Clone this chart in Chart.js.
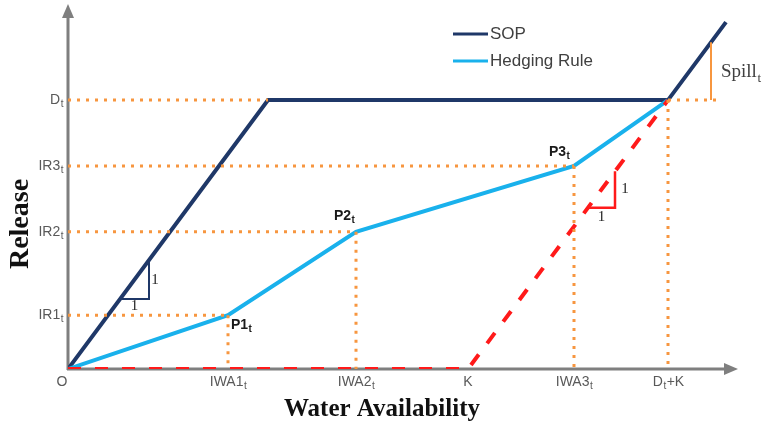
<!DOCTYPE html>
<html>
<head>
<meta charset="utf-8">
<script src="https://cdn.jsdelivr.net/npm/chart.js@4"></script>
<style>
  html, body { margin: 0; padding: 0; background: #fff; }
  #wrap { width: 763px; height: 429px; }
</style>
</head>
<body>
<div id="wrap"><canvas id="chart" width="763" height="429"></canvas></div>
<script>
// Values in units where Dt = 100
const xTicks = [0, 80, 144, 200, 253, 300];
const xTickLabels = ['O', 'IWA1_t', 'IWA2_t', 'K', 'IWA3_t', 'D_t+K'];
const yTicks = [20, 51, 75.5, 100];
const yTickLabels = ['IR1_t', 'IR2_t', 'IR3_t', 'D_t'];

const sopX = [0, 100, 300, 329];
const sopY = [0, 100, 100, 129];
const hedgeX = [0, 80, 144, 253, 300];
const hedgeY = [0, 20, 51, 75.5, 100];
const kLineX = [0, 200, 300];
const kLineY = [0, 0, 100];
const pointLabels = ['P1_t', 'P2_t', 'P3_t'];
const dGuideEnd = 327;
const spillX = 321.5;
const spillY = [100, 121.5];
const sopTriX = [26, 40.5, 40.5];
const sopTriY = [26, 26, 40.5];
const kTriX = [260, 273.5, 273.5];
const kTriY = [60, 60, 73.5];

const NAVY = '#1f3868';
const CYAN = '#19b1ec';
const RED = '#ff1a1a';
const ORANGE = '#f7963f';
const AXIS = '#7f7f7f';
const TXT = '#595959';

const pts = (xs, ys) => xs.map((x, i) => ({ x: x, y: ys[i] }));

function line(data, color, width, dash, cap) {
  return {
    data: data,
    showLine: true,
    borderColor: color,
    borderWidth: width,
    borderDash: dash || [],
    borderCapStyle: cap || 'butt',
    pointRadius: 0,
    fill: false,
    tension: 0
  };
}

// dotted guides from the axes to the breakpoints
const DOTS = [3, 6];
const guides = [];
for (let i = 1; i < hedgeX.length; i++) {
  const last = i === hedgeX.length - 1;
  if (last) {
    // Dt guide: hidden under the flat SOP part, so draw it in two pieces
    guides.push(line([{ x: 0, y: hedgeY[i] }, { x: sopX[1], y: hedgeY[i] }], ORANGE, 3, DOTS));
    guides.push(line([{ x: sopX[2], y: hedgeY[i] }, { x: dGuideEnd, y: hedgeY[i] }], ORANGE, 3, DOTS));
  } else {
    guides.push(line([{ x: 0, y: hedgeY[i] }, { x: hedgeX[i], y: hedgeY[i] }], ORANGE, 3, DOTS));
  }
  guides.push(line([{ x: hedgeX[i], y: hedgeY[i] }, { x: hedgeX[i], y: 0 }], ORANGE, 3, DOTS));
}

// draws text with a subscript "t" where the label has "_t"
function subText(ctx, label, x, y, size, weight, family, align) {
  const parts = label.split('_t');
  const main = weight + ' ' + size + 'px ' + family;
  const sub = weight + ' ' + Math.round(size * 0.7) + 'px ' + family;
  ctx.font = main;
  const w0 = ctx.measureText(parts[0]).width;
  const w2 = parts.length > 1 ? ctx.measureText(parts[1]).width : 0;
  ctx.font = sub;
  const w1 = parts.length > 1 ? ctx.measureText('t').width : 0;
  const total = w0 + w1 + w2;
  let sx = x;
  if (align === 'center') sx = x - total / 2;
  if (align === 'right') sx = x - total;
  ctx.textAlign = 'left';
  ctx.textBaseline = 'middle';
  ctx.font = main;
  ctx.fillText(parts[0], sx, y);
  if (parts.length > 1) {
    ctx.font = sub;
    ctx.fillText('t', sx + w0 + 0.5, y + size * 0.32);
    ctx.font = main;
    ctx.fillText(parts[1], sx + w0 + w1 + 1, y);
  }
}

const diagram = {
  id: 'diagram',
  beforeDatasetsDraw(chart) {
    const ctx = chart.ctx;
    const xs = chart.scales.x, ys = chart.scales.y;
    const ox = xs.getPixelForValue(0), oy = ys.getPixelForValue(0);
    ctx.save();
    ctx.strokeStyle = AXIS;
    ctx.fillStyle = AXIS;
    ctx.lineWidth = 3;
    ctx.beginPath();
    ctx.moveTo(ox, oy + 1);
    ctx.lineTo(ox, 16);
    ctx.moveTo(ox - 1, oy);
    ctx.lineTo(726, oy);
    ctx.stroke();
    ctx.beginPath();
    ctx.moveTo(ox, 4);
    ctx.lineTo(ox - 6, 18);
    ctx.lineTo(ox + 6, 18);
    ctx.closePath();
    ctx.fill();
    ctx.beginPath();
    ctx.moveTo(738, oy);
    ctx.lineTo(724, oy - 6);
    ctx.lineTo(724, oy + 6);
    ctx.closePath();
    ctx.fill();
    ctx.restore();
  },
  afterDatasetsDraw(chart) {
    const ctx = chart.ctx;
    const xs = chart.scales.x, ys = chart.scales.y;
    const px = v => xs.getPixelForValue(v);
    const py = v => ys.getPixelForValue(v);
    const oy = py(0);
    ctx.save();
    ctx.fillStyle = TXT;
    const sans = '"Liberation Sans", Arial, sans-serif';
    const serif = '"Liberation Serif", "Times New Roman", serif';
    // tick labels
    xTicks.forEach((v, i) => {
      const x = v === 0 ? px(v) - 6 : px(v);
      subText(ctx, xTickLabels[i], x, oy + 13, 14, 'normal', sans, 'center');
    });
    yTicks.forEach((v, i) => {
      subText(ctx, yTickLabels[i], px(0) - 5, py(v), 14, 'normal', sans, 'right');
    });
    // breakpoint labels
    ctx.fillStyle = '#1a1a1a';
    subText(ctx, pointLabels[0], px(hedgeX[1]) + 3, py(hedgeY[1]) + 10, 14, 'bold', sans, 'left');
    subText(ctx, pointLabels[1], px(hedgeX[2]) - 22, py(hedgeY[2]) - 16, 14, 'bold', sans, 'left');
    subText(ctx, pointLabels[2], px(hedgeX[3]) - 25, py(hedgeY[3]) - 14, 14, 'bold', sans, 'left');
    // slope triangle labels
    ctx.fillStyle = '#262626';
    ctx.font = '15px ' + serif;
    ctx.textAlign = 'center';
    ctx.textBaseline = 'middle';
    ctx.fillText('1', px(sopTriX[2]) + 6, py((sopTriY[0] + sopTriY[2]) / 2));
    ctx.fillText('1', (px(sopTriX[0]) + px(sopTriX[1])) / 2, py(sopTriY[0]) + 7);
    ctx.fillText('1', px(kTriX[2]) + 10, py((kTriY[0] + kTriY[2]) / 2));
    ctx.fillText('1', (px(kTriX[0]) + px(kTriX[1])) / 2, py(kTriY[0]) + 9);
    // spill label
    ctx.fillStyle = '#404040';
    subText(ctx, 'Spill_t', px(spillX) + 10, py((spillY[0] + spillY[1]) / 2) + 1, 19, 'normal', serif, 'left');
    // legend
    const legend = [['SOP', NAVY, 34], ['Hedging Rule', CYAN, 61]];
    legend.forEach(l => {
      ctx.strokeStyle = l[1];
      ctx.lineWidth = 3;
      ctx.beginPath();
      ctx.moveTo(453, l[2]);
      ctx.lineTo(488, l[2]);
      ctx.stroke();
      ctx.fillStyle = '#404040';
      ctx.font = '17px ' + sans;
      ctx.textAlign = 'left';
      ctx.textBaseline = 'middle';
      ctx.fillText(l[0], 490, l[2]);
    });
    // axis titles
    ctx.fillStyle = '#111';
    ctx.font = 'bold 25px ' + serif;
    ctx.textAlign = 'center';
    ctx.textBaseline = 'middle';
    ctx.fillText('Water Availability', 382, 410);
    ctx.font = 'bold 28px ' + serif;
    ctx.translate(21, 224);
    ctx.rotate(-Math.PI / 2);
    ctx.fillText('Release', 0, 0);
    ctx.restore();
  }
};

new Chart(document.getElementById('chart'), {
  type: 'scatter',
  data: {
    datasets: [
      ...guides,
      line(pts([spillX, spillX], spillY), ORANGE, 2),
      line(pts(kLineX, kLineY), RED, 4, [13, 14]),
      line(pts(sopTriX, sopTriY), NAVY, 2),
      line(pts(kTriX, kTriY), RED, 2.5),
      line(pts(hedgeX, hedgeY), CYAN, 4),
      line(pts(sopX, sopY), NAVY, 4)
    ]
  },
  options: {
    responsive: false,
    animation: false,
    layout: { padding: { left: 68, right: 5, top: 6, bottom: 60 } },
    plugins: { legend: { display: false }, tooltip: { enabled: false } },
    scales: {
      x: { type: 'linear', min: 0, max: 345, display: false },
      y: { type: 'linear', min: 0, max: 135, display: false }
    }
  },
  plugins: [diagram]
});
</script>
</body>
</html>
